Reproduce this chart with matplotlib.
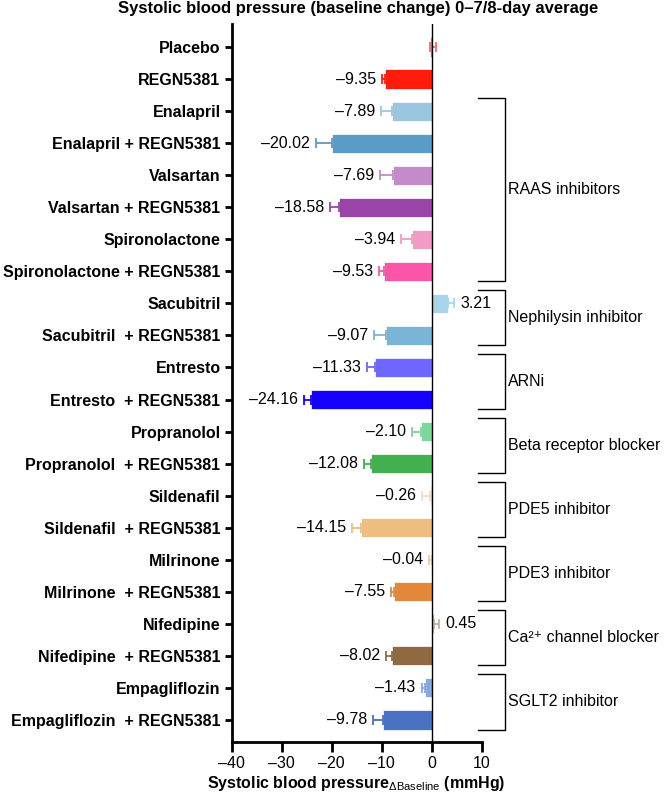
import matplotlib
matplotlib.use("Agg")
import matplotlib.pyplot as plt

plt.rcParams['font.family'] = ['Liberation Sans', 'DejaVu Sans']
plt.rcParams['mathtext.fontset'] = 'custom'
plt.rcParams['mathtext.rm'] = 'Liberation Sans'
plt.rcParams['mathtext.it'] = 'Liberation Sans:italic'
plt.rcParams['mathtext.bf'] = 'Liberation Sans:bold'

# --- dados ---
grupos = ["Placebo", "REGN5381",
          "Enalapril", "Enalapril + REGN5381",
          "Valsartan", "Valsartan + REGN5381",
          "Spironolactone", "Spironolactone + REGN5381",
          "Sacubitril", "Sacubitril  + REGN5381",
          "Entresto", "Entresto  + REGN5381",
          "Propranolol", "Propranolol  + REGN5381",
          "Sildenafil", "Sildenafil  + REGN5381",
          "Milrinone", "Milrinone  + REGN5381",
          "Nifedipine", "Nifedipine  + REGN5381",
          "Empagliflozin", "Empagliflozin  + REGN5381"]
valores = [-0.4, -9.35, -7.89, -20.02, -7.69, -18.58, -3.94, -9.53, 3.21, -9.07,
           -11.33, -24.16, -2.10, -12.08, -0.26, -14.15, -0.04, -7.55, 0.45, -8.02,
           -1.43, -9.78]
erros = [1.2, 0.65, 2.2, 3.1, 2.6, 1.75, 2.2, 1.0, 1.3, 2.45,
         1.65, 1.4, 1.8, 1.4, 1.7, 1.85, 0.5, 0.6, 1.05, 1.15,
         0.6, 2.0]
# lado da barra de erro (+1 para a direita, -1 para a esquerda)
lado_erro = [1, -1, -1, -1, -1, -1, -1, -1, 1, -1,
             -1, -1, -1, -1, -1, -1, -1, -1, 1, -1,
             -1, -1]
mostrar_rotulo = [False] + [True] * 21
cores = ["#F26D77", "#FF1C0C",
         "#9BC6E0", "#5A9BC8",
         "#C48BCB", "#9A44AA",
         "#F39BC6", "#FA55A8",
         "#A9D5EA", "#78B5D6",
         "#6E66FF", "#1400FF",
         "#7DD69A", "#43B04F",
         "#F3DCC2", "#EEBD80",
         "#F2C597", "#E3873B",
         "#C8B199", "#8F6A40",
         "#88A9DD", "#4A72C2"]

# classes: (primeira linha, última linha, nome)
classes = [(2, 7, "RAAS inhibitors"),
           (8, 9, "Nephilysin inhibitor"),
           (10, 11, "ARNi"),
           (12, 13, "Beta receptor blocker"),
           (14, 15, "PDE5 inhibitor"),
           (16, 17, "PDE3 inhibitor"),
           (18, 19, "Ca\u00b2\u207a channel blocker"),
           (20, 21, "SGLT2 inhibitor")]

xticks = [-40, -30, -20, -10, 0, 10]

fig = plt.figure(figsize=(6.64, 7.99), dpi=100)
ax = fig.add_axes([0.349, 0.0713, 0.3765, 0.8987])

pos = list(range(len(grupos)))
ax.barh(pos, valores, height=0.6, color=cores, edgecolor='white', linewidth=0.5, zorder=2)

for i, (v, e, c, s) in enumerate(zip(valores, erros, cores, lado_erro)):
    xe = [[0], [e]] if s > 0 else [[e], [0]]
    ax.errorbar(v, i, xerr=xe, fmt='none', ecolor=c, elinewidth=1.3, capsize=3.5, capthick=1.3, zorder=3)
    if mostrar_rotulo[i]:
        fim = v + s * e
        txt = f"{v:.2f}".replace("-", "\u2013")
        if s > 0:
            ax.text(fim + 1.2, i, txt, va='center', ha='left', fontsize=11.5)
        else:
            ax.text(fim - 1.2, i, txt, va='center', ha='right', fontsize=11.5)

ax.axvline(0, color='black', linewidth=1, zorder=4)

ax.set_xlim(-40, 10)
ax.set_ylim(21.69, -0.72)
ax.set_yticks(pos)
ax.set_yticklabels(grupos, fontsize=11.5, fontweight='bold')
ax.set_xticks(xticks)
ax.set_xticklabels([str(t).replace("-", "\u2013") for t in xticks], fontsize=11.5)

for lado in ['top', 'right']:
    ax.spines[lado].set_visible(False)
ax.spines['left'].set_linewidth(2)
ax.spines['bottom'].set_linewidth(2)
ax.tick_params(axis='y', length=5, width=2, pad=3)
ax.tick_params(axis='x', length=7, width=2, pad=3)

ax.set_xlabel(r"Systolic blood pressure$_{\mathrm{\Delta Baseline}}$ (mmHg)",
              fontsize=11.5, fontweight='bold', labelpad=2)

# colchetes das classes
for ini, fim, nome in classes:
    y0 = ini - 0.42
    y1 = fim + 0.3
    ax.plot([9.2, 14.6, 14.6, 9.2], [y0, y0, y1, y1], color='black', linewidth=1, clip_on=False)
    ax.text(15.2, (y0 + y1) / 2, nome, va='center', ha='left', fontsize=11.5, clip_on=False)

fig.text(0.539, 0.989, "Systolic blood pressure (baseline change) 0\u20137/8-day average",
         ha='center', va='center', fontsize=12, fontweight='bold')

plt.savefig("out.png", dpi=100)
